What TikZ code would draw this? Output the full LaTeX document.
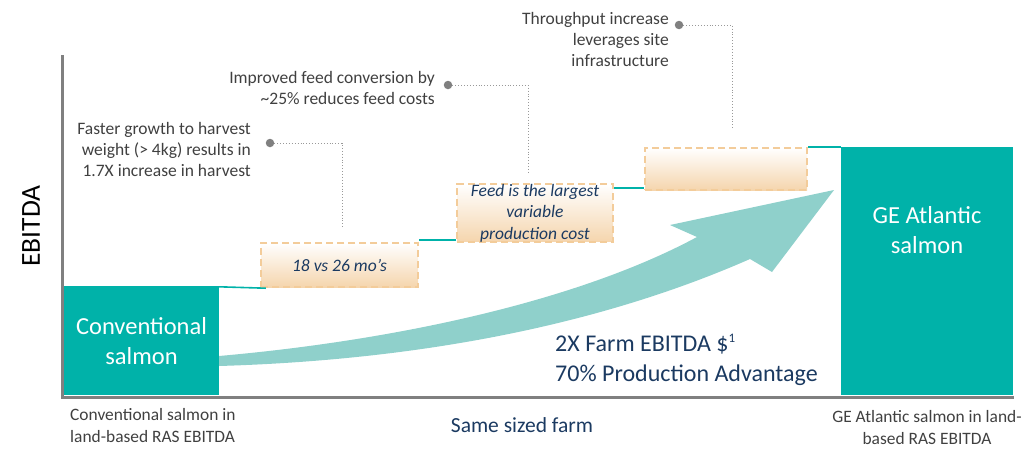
\documentclass[tikz,border=0pt]{standalone}
\usepackage{fontspec}
\setmainfont{Carlito}
\usetikzlibrary{calc}
\definecolor{teal1}{HTML}{00B2A9}
\definecolor{arrowc}{HTML}{8FD0CB}
\definecolor{navy}{HTML}{1B3A61}
\definecolor{gtext}{HTML}{404040}
\definecolor{axisc}{HTML}{808080}
\definecolor{boxor}{HTML}{F3CC9A}
\definecolor{boxfill}{HTML}{F5D5AD}
\definecolor{dotc}{HTML}{808080}
\tikzset{
  tealbox/.style={fill=teal1, draw=none, text=white, align=center, inner sep=0pt,
    font=\fontsize{24.5}{30}\selectfont},
  dashbox/.style={draw=boxor, line width=2.4pt, dash pattern=on 7pt off 4pt,
    top color=white, bottom color=boxfill, inner sep=0pt, align=center,
    text=navy, font=\fontsize{17.5}{21.5}\selectfont\itshape},
  stepline/.style={draw=teal1, line width=1.6pt},
  callout/.style={text=gtext, align=right, inner sep=0pt, font=\fontsize{17.5}{21}\selectfont},
  calldot/.style={circle, fill=dotc, minimum size=8.5pt, inner sep=0pt},
  leader/.style={draw=dotc!80, line width=0.9pt, dotted},
  bottomlabel/.style={text=gtext, align=left, inner sep=0pt, font=\fontsize{17.4}{22}\selectfont},
}
\begin{document}
\begin{tikzpicture}[x=1pt,y=-1pt]
\useasboundingbox (0,0) rectangle (1035,469);
% arrow
\fill[arrowc] (219,356) .. controls (400,340) and (580,300) .. (697,237)
  -- (670,225) -- (834,190) -- (772,272) -- (750,259)
  .. controls (600,325) and (420,360) .. (219,366) -- cycle;
% boxes
\node[tealbox, minimum width=155pt, minimum height=108pt] (conv) at (141.5,341) {Conventional\\salmon};
\node[tealbox, minimum width=172pt, minimum height=248pt] (ge) at (927,271) {};
\node[tealbox] (getext) at (927,230) {GE Atlantic\\salmon};
\node[dashbox, minimum width=157pt, minimum height=44pt] (box1) at (339.5,265) {18 vs 26 mo’s};
\node[dashbox, minimum width=156pt, minimum height=48pt] (box2) at (535,213) {Feed is the largest\\variable\\production cost};
\node[dashbox, minimum width=162pt, minimum height=42pt] (box3) at (726,169) {};
% steps
\draw[stepline] (conv.north west) -- (conv.north east) -- ($(box1.south west)+(6,0)$);
\draw[stepline] (box1.north east |- 0,240) -- (box2.south west |- 0,240);
\draw[stepline] (box2.north east |- 0,188) -- (box3.south west |- 0,188);
\draw[stepline] (box3.north east |- ge.north) -- (ge.north west);
% axes
\draw[axisc, line width=3pt] (62,55) -- (62,397) -- (1014,397);
\node[rotate=90, text=black, font=\fontsize{27.5}{30}\selectfont] (ylab) at (31,226) {EBITDA};
% callouts
\node[callout, anchor=east] (c1) at (251,149) {Faster growth to harvest\\weight (> 4kg) results in\\1.7X increase in harvest};
\node[calldot] (d1) at (270,143) {};
\coordinate (e1) at (342,228);
\draw[leader] (d1) -- (d1 -| e1) -- (e1);
\node[callout, anchor=east] (c2) at (435,88) {Improved feed conversion by\\\textasciitilde 25\% reduces feed costs};
\node[calldot] (d2) at (448,85) {};
\coordinate (e2) at (528,172);
\draw[leader] (d2) -- (d2 -| e2) -- (e2);
\node[callout, anchor=east] (c3) at (669,39) {Throughput increase\\leverages site\\infrastructure};
\node[calldot] (d3) at (679,25) {};
\coordinate (e3) at (732,128);
\draw[leader] (d3) -- (d3 -| e3) -- (e3);
% texts
\node[anchor=west, text=navy, align=left, inner sep=0pt, font=\fontsize{24}{30}\selectfont] (adv) at (555,360) {2X Farm EBITDA \$\textsuperscript{\fontsize{13}{13}\selectfont 1}\\70\% Production Advantage};
\node[text=navy, inner sep=0pt, font=\fontsize{21.5}{24}\selectfont] (farm) at (522,425) {Same sized farm};
\node[bottomlabel, anchor=west] (bl1) at (70,426) {Conventional salmon in\\land-based RAS EBITDA};
\node[bottomlabel, align=center] (bl2) at (927,428) {GE Atlantic salmon in land-\\based RAS EBITDA};
\end{tikzpicture}
\end{document}
